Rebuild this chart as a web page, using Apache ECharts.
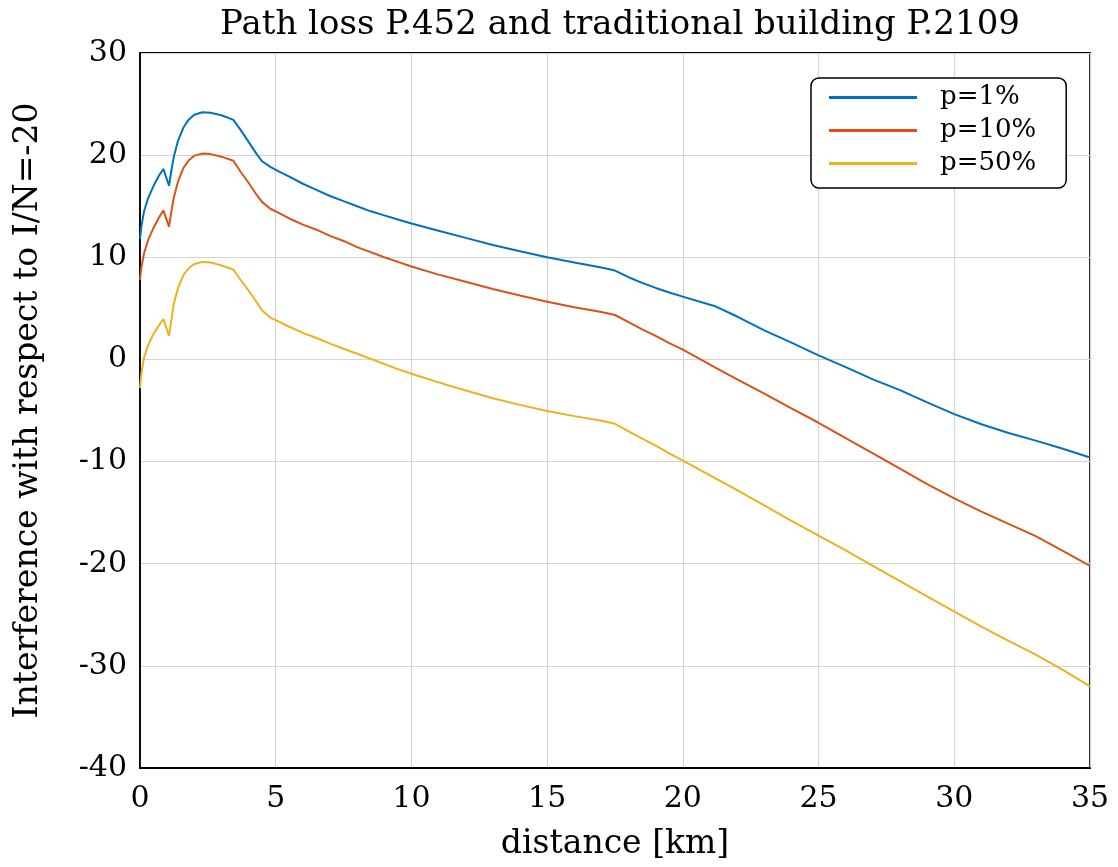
<!DOCTYPE html>
<html>
<head>
<meta charset="utf-8">
<title>Path loss P.452 and traditional building P.2109</title>
<script src="https://cdn.jsdelivr.net/npm/echarts@6/dist/echarts.min.js"></script>
<style>
  html, body { margin: 0; padding: 0; background: #fff; }
  #chart { width: 1118px; height: 867px; }
</style>
</head>
<body>
<div id="chart"></div>
<script>
// distance along the path [km]
const distanceKm = [
  0, 0.05, 0.15, 0.3, 0.5, 0.7, 0.86, 1.07, 1.15, 1.25, 1.4, 1.6, 1.8, 2.0, 2.3, 2.6,
  3.0, 3.44, 3.7, 4.0, 4.3, 4.5, 4.8, 5.0, 5.5, 6.0, 6.5, 7.0, 7.5, 8.0, 8.5, 9.0,
  9.5, 10, 11, 12, 13, 14, 15, 16, 17, 17.5, 18, 18.5, 19, 19.5, 20, 21, 21.2, 22,
  23, 24, 25, 26, 27, 28, 29, 30, 31, 32, 33, 34, 35
];

// interference relative to I/N = -20 dB, time percentage p = 1%
const p1 = [
  11.8, 13.0, 14.5, 15.8, 17.0, 18.0, 18.65, 17.0, 18.4, 19.9, 21.4, 22.7, 23.5, 23.95, 24.2, 24.15,
  23.9, 23.45, 22.5, 21.3, 20.1, 19.4, 18.85, 18.55, 17.9, 17.2, 16.6, 16.0, 15.5, 15.0, 14.5, 14.1,
  13.7, 13.3, 12.6, 11.9, 11.2, 10.6, 10.0, 9.5, 9.0, 8.7, 8.05, 7.5, 7.0, 6.55, 6.15, 5.35, 5.2, 4.2,
  2.85, 1.65, 0.4, -0.75, -1.95, -3.0, -4.2, -5.35, -6.35, -7.2, -7.95, -8.75, -9.6
];

// p = 10%
const p10 = [
  7.8, 9.0, 10.4, 11.7, 12.9, 13.9, 14.6, 13.0, 14.4, 15.9, 17.4, 18.75, 19.5, 19.95, 20.15, 20.1,
  19.85, 19.45, 18.4, 17.3, 16.1, 15.4, 14.75, 14.5, 13.8, 13.2, 12.7, 12.1, 11.6, 11.0, 10.5, 10.0,
  9.55, 9.1, 8.3, 7.6, 6.9, 6.25, 5.65, 5.1, 4.65, 4.35, 3.65, 2.95, 2.3, 1.6, 0.95, -0.5, -0.8, -1.95,
  -3.35, -4.8, -6.2, -7.7, -9.2, -10.7, -12.2, -13.6, -14.9, -16.1, -17.3, -18.75, -20.2
];

// p = 50%
const p50 = [
  -2.8, -1.4, 0.2, 1.4, 2.5, 3.35, 3.95, 2.3, 3.8, 5.5, 7.0, 8.25, 8.95, 9.35, 9.55, 9.5,
  9.2, 8.8, 7.8, 6.75, 5.6, 4.8, 4.1, 3.85, 3.2, 2.6, 2.1, 1.55, 1.05, 0.55, 0.05, -0.45,
  -0.95, -1.4, -2.25, -3.05, -3.8, -4.45, -5.05, -5.55, -6.0, -6.3, -7.05, -7.75, -8.45, -9.2, -9.9, -11.35, -11.65, -12.8,
  -14.3, -15.8, -17.25, -18.7, -20.2, -21.7, -23.2, -24.7, -26.15, -27.55, -28.9, -30.4, -32.0
];

const seriesNames = ['p=1%', 'p=10%', 'p=50%'];
const seriesValues = [p1, p10, p50];
const seriesColors = ['#0072BD', '#D95319', '#EDB120'];

const FONT = 'DejaVu Serif';

const chart = echarts.init(document.getElementById('chart'), null, { renderer: 'canvas' });

const toPairs = vals => distanceKm.map((d, i) => [d, vals[i]]);

chart.setOption({
  animation: false,
  backgroundColor: '#ffffff',
  title: {
    text: 'Path loss P.452 and traditional building P.2109',
    left: 615,
    textAlign: 'center',
    top: 3,
    textStyle: { fontFamily: FONT, fontSize: 34, fontWeight: 'normal', color: '#000' }
  },
  grid: {
    left: 140, right: 28, top: 53, bottom: 99,
    show: true, borderColor: '#000', borderWidth: 1.8, backgroundColor: 'transparent'
  },
  legend: {
    orient: 'vertical',
    left: 811, top: 78,
    padding: [3, 30, 8, 18],
    icon: 'rect',
    itemWidth: 88, itemHeight: 3, itemGap: 0,
    backgroundColor: '#fff',
    borderColor: '#000', borderWidth: 1.5, borderRadius: 8,
    textStyle: {
      fontFamily: FONT, fontSize: 26, color: '#000',
      lineHeight: 33, padding: [0, 0, 0, 18]
    },
    data: seriesNames
  },
  xAxis: {
    type: 'value',
    min: 0, max: 35, interval: 5,
    name: 'distance [km]',
    nameLocation: 'middle',
    nameGap: 60,
    nameTextStyle: { fontFamily: FONT, fontSize: 33, color: '#000' },
    axisLine: { show: true, onZero: false, lineStyle: { color: '#000', width: 1.8 } },
    axisTick: { show: false },
    axisLabel: { fontFamily: FONT, fontSize: 30, color: '#000', margin: 16 },
    splitLine: { show: true, lineStyle: { color: '#d4d4d4', width: 1.2 } }
  },
  yAxis: {
    type: 'value',
    min: -40, max: 30, interval: 10,
    name: 'Interference with respect to I/N=-20',
    nameLocation: 'middle',
    nameGap: 95,
    nameTextStyle: { fontFamily: FONT, fontSize: 33, color: '#000' },
    axisLine: { show: true, onZero: false, lineStyle: { color: '#000', width: 1.8 } },
    axisTick: { show: false },
    axisLabel: { fontFamily: FONT, fontSize: 30, color: '#000', margin: 13 },
    splitLine: { show: true, lineStyle: { color: '#d4d4d4', width: 1.2 } }
  },
  series: seriesNames.map((name, k) => ({
    name: name,
    type: 'line',
    data: toPairs(seriesValues[k]),
    showSymbol: false,
    symbol: 'none',
    smooth: false,
    color: seriesColors[k],
    lineStyle: { color: seriesColors[k], width: 2 },
    z: 3 + k
  }))
});
</script>
</body>
</html>
